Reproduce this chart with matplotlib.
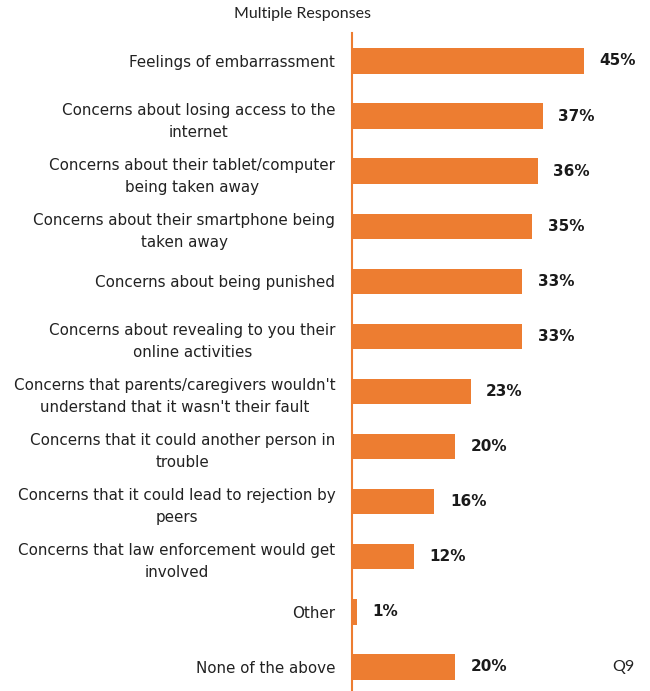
import matplotlib.pyplot as plt

# Categories and shares (percent)
labels = [
    "Feelings of embarrassment",
    "Concerns about losing access to the\ninternet",
    "Concerns about their tablet/computer\nbeing taken away",
    "Concerns about their smartphone being\ntaken away",
    "Concerns about being punished",
    "Concerns about revealing to you their\nonline activities",
    "Concerns that parents/caregivers wouldn't\nunderstand that it wasn't their fault",
    "Concerns that it could another person in\ntrouble",
    "Concerns that it could lead to rejection by\npeers",
    "Concerns that law enforcement would get\ninvolved",
    "Other",
    "None of the above",
]
values = [45, 37, 36, 35, 33, 33, 23, 20, 16, 12, 1, 20]

orange = "#ED7D31"
plt.rcParams['font.family'] = ['DejaVu Sans']

fig = plt.figure(figsize=(6.5, 6.91), dpi=100)
ax = fig.add_axes([352 / 650, 0, 298 / 650, 1 - 33 / 691])

pos = list(range(len(labels)))
ax.barh(pos, values, height=0.46, color=orange)
ax.set_ylim(11.436, -0.508)
ax.set_xlim(0, 57.8)

for y, v in zip(pos, values):
    ax.text(v + 3.0, y, f"{v}%", va="center", ha="left",
            fontsize=11, fontweight="bold", color="#1a1a1a")

ax.set_yticks(pos)
ax.set_yticklabels(labels, fontsize=10.9, color="#222222", linespacing=1.6,
                   multialignment="center")
ax.tick_params(axis="y", length=0, pad=12)
ax.set_xticks([])

for s in ["top", "right", "bottom"]:
    ax.spines[s].set_visible(False)
ax.spines["left"].set_color(orange)
ax.spines["left"].set_linewidth(1.5)

fig.text(303 / 650, 1 - 14 / 691, "Multiple Responses", ha="center", va="center",
         fontsize=11.5, color="#222222", family="Lato")
fig.text(623 / 650, 1 - 667 / 691, "Q9", ha="center", va="center",
         fontsize=11.5, color="#222222", family="Lato")

plt.savefig("out.png", dpi=100)
